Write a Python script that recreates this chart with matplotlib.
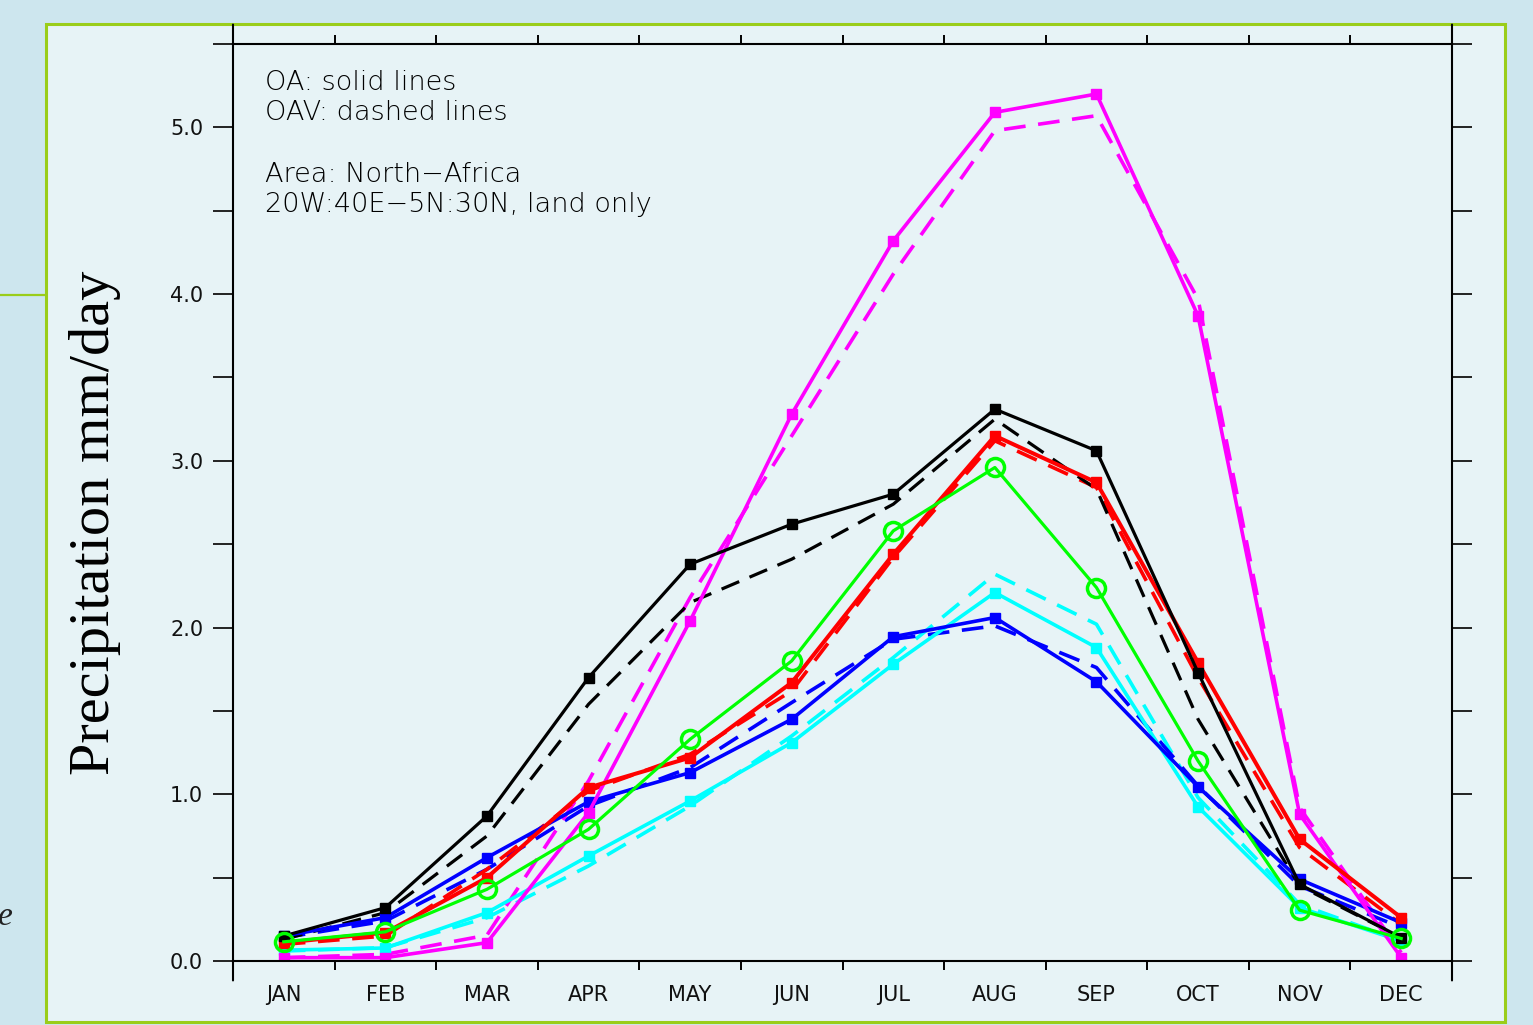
#precipitacao mensal - North Africa, OA (solido) e OAV (tracejado)
import numpy as np
import matplotlib.pyplot as plt
from matplotlib.patches import Rectangle
from matplotlib.lines import Line2D

#dados (mm/day)
meses = ['JAN', 'FEB', 'MAR', 'APR', 'MAY', 'JUN', 'JUL', 'AUG', 'SEP', 'OCT', 'NOV', 'DEC']

oa_black = [0.15, 0.32, 0.87, 1.70, 2.38, 2.62, 2.80, 3.31, 3.06, 1.73, 0.46, 0.14]
oav_black = [0.13, 0.29, 0.75, 1.54, 2.15, 2.41, 2.74, 3.25, 2.83, 1.45, 0.45, 0.14]

oa_red = [0.11, 0.17, 0.50, 1.04, 1.22, 1.67, 2.44, 3.15, 2.87, 1.79, 0.73, 0.26]
oav_red = [0.10, 0.15, 0.55, 1.02, 1.24, 1.62, 2.42, 3.12, 2.84, 1.70, 0.68, 0.22]

oa_magenta = [0.02, 0.02, 0.11, 0.89, 2.04, 3.28, 4.32, 5.09, 5.20, 3.87, 0.88, 0.02]
oav_magenta = [0.02, 0.04, 0.155, 1.08, 2.18, 3.15, 4.12, 4.98, 5.07, 3.97, 0.92, 0.05]

oa_green = [0.115, 0.175, 0.43, 0.79, 1.33, 1.80, 2.58, 2.96, 2.24, 1.20, 0.305, 0.135]

oa_blue = [0.15, 0.26, 0.62, 0.955, 1.13, 1.45, 1.945, 2.06, 1.675, 1.045, 0.49, 0.23]
oav_blue = [0.14, 0.24, 0.55, 0.93, 1.16, 1.55, 1.93, 2.01, 1.76, 1.05, 0.45, 0.20]

oa_cyan = [0.065, 0.078, 0.29, 0.63, 0.96, 1.31, 1.78, 2.21, 1.88, 0.925, 0.32, 0.12]
oav_cyan = [0.06, 0.08, 0.26, 0.57, 0.93, 1.35, 1.82, 2.32, 2.02, 0.98, 0.34, 0.12]

W, H = 1533., 1025.
fig = plt.figure(figsize=(W/100, H/100), dpi=100)
fig.patch.set_facecolor('#cde6ee')

#moldura verde do slide (atras de tudo)
fig.add_artist(Rectangle((46/W, 1-1022/H), (1505-46)/W, (1022-24)/H, transform=fig.transFigure,
                         facecolor='#e7f3f6', edgecolor='#9acd1a', lw=2.2, zorder=-10))
fig.add_artist(Line2D([0, 46/W], [1-295/H, 1-295/H], transform=fig.transFigure, color='#9acd1a', lw=1.6, zorder=-10))
fig.text(-0.001, 1-925/H, 'e', family='Liberation Serif', style='italic', size=24, color='#222222')

ax = fig.add_axes([233/W, 1-961/H, (1452-233)/W, (961-44)/H])
ax.set_facecolor('none')

x = np.arange(1, 13)
tr = (6, 3.5)

#tracejado (OAV) sem marcadores
ax.plot(x, oav_cyan, color='#00ffff', lw=2.6, dashes=tr)
ax.plot(x, oav_blue, color='#0000ff', lw=2.6, dashes=tr)
ax.plot(x, oav_magenta, color='#ff00ff', lw=2.6, dashes=tr)
ax.plot(x, oav_red, color='#ff0000', lw=2.6, dashes=tr)
ax.plot(x, oav_black, color='black', lw=2.3, dashes=tr)

#solido (OA) com marcadores quadrados
ax.plot(x, oa_cyan, color='#00ffff', lw=2.6, marker='s', ms=7)
ax.plot(x, oa_blue, color='#0000ff', lw=2.6, marker='s', ms=7)
ax.plot(x, oa_magenta, color='#ff00ff', lw=2.6, marker='s', ms=7)
ax.plot(x, oa_red, color='#ff0000', lw=2.9, marker='s', ms=7.5)
ax.plot(x, oa_black, color='black', lw=2.3, marker='s', ms=6.5)
ax.plot(x, oa_green, color='#00ff00', lw=2.3, marker='o', ms=13, mfc='none', mew=2.5)

ax.set_xlim(0.5, 12.5)
ax.set_ylim(0, 5.5)

ax.set_xticks(x)
ax.set_xticklabels(meses, color='#111111')
ax.set_xticks(np.arange(1.5, 12, 1), minor=True)
ax.tick_params(axis='x', which='major', length=0, pad=17, labelsize=15)
ax.tick_params(axis='x', which='minor', direction='out', length=6.5, width=1.4, top=True, bottom=True)

ax.set_yticks(np.arange(0, 5.51, 0.5))
ax.set_yticklabels(['%.1f' % v if v % 1 == 0 else '' for v in np.arange(0, 5.51, 0.5)], color='#111111')
ax.tick_params(axis='y', direction='out', length=14.5, width=1.4, left=True, right=True,
               labelsize=15, pad=7, color='#222222')
for s in ax.spines.values():
    s.set_linewidth(1.5)

#prolongamento das bordas nos cantos
for xx in (0, 1):
    for yy, sg in ((0, -1), (1, 1)):
        ax.annotate('', xy=(xx, yy), xycoords='axes fraction', xytext=(0, sg*14), textcoords='offset points',
                    arrowprops=dict(arrowstyle='-', lw=1.5, color='black', shrinkA=0, shrinkB=0))

fig.text(95/W, 1-523/H, 'Precipitation mm/day', family='Liberation Serif', size=42,
         rotation=90, ha='center', va='center')

#legenda em texto
txt = ['OA: solid lines', 'OAV: dashed lines', 'Area: North\u2212Africa', '20W:40E\u22125N:30N, land only']
ybase = [90, 120, 182, 212]
for t, yb in zip(txt, ybase):
    fig.text(265/W, 1-yb/H, t, size=19.5, color='black', va='baseline', ha='left', weight='light')

plt.savefig('out.png', dpi=100, facecolor=fig.get_facecolor())
